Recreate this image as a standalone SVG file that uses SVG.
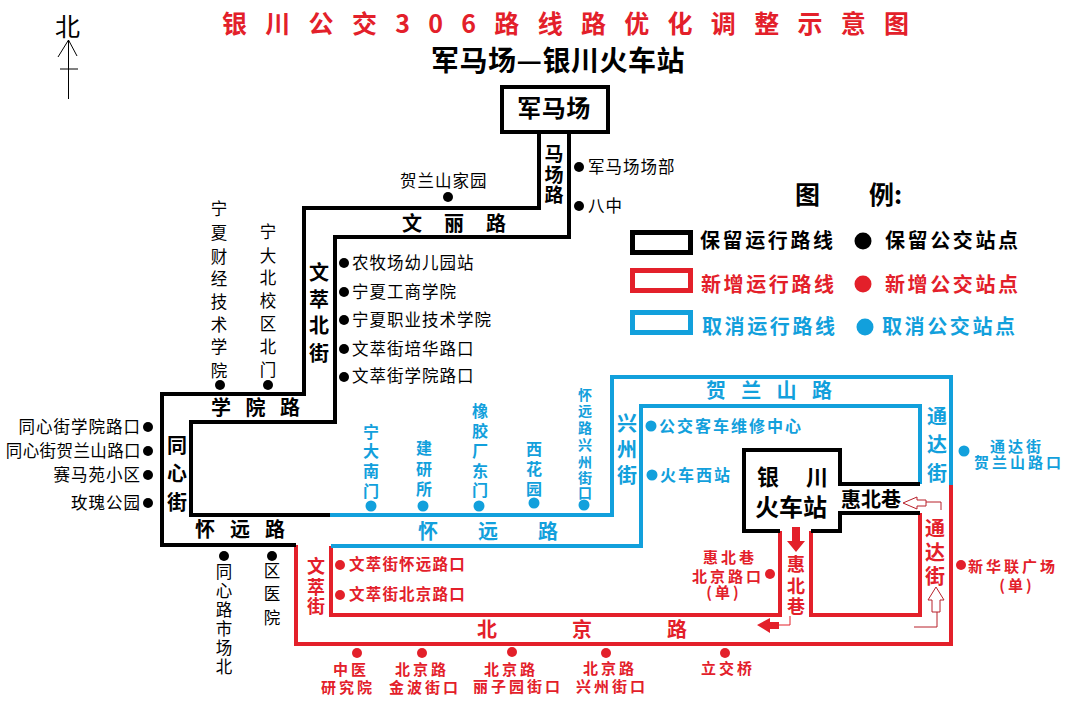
<svg xmlns="http://www.w3.org/2000/svg" width="1065" height="703" viewBox="0 0 1065 703">
<style>
text{font-family:"Noto Sans CJK SC","Liberation Sans",sans-serif;font-weight:700}
.k{fill:#000}.r{fill:#e3202a}.b{fill:#12a0dc}
.m{text-anchor:middle}
.e{text-anchor:end}
.n{font-weight:400;font-size:16.5px;letter-spacing:1px}
.v{font-weight:400;font-size:16.5px}
.sb{font-size:16px;letter-spacing:2px}
.sb2{font-size:15px;letter-spacing:3px}
.vb{font-size:16px}
.sr{font-size:15.5px;letter-spacing:1.2px}
.sr2{font-size:15px;letter-spacing:3px}
.l{font-size:20px}.t{font-size:20px}
.lg{font-size:20px;letter-spacing:2.6px}
.lk{fill:none;stroke-width:4;stroke-linejoin:miter}
.K{stroke:#000}.R{stroke:#e3202a}.B{stroke:#12a0dc}
.dk{fill:#000}.dr{fill:#e3202a}.db{fill:#12a0dc}
.thin{fill:none;stroke-width:1}
</style>
<rect width="1065" height="703" fill="#fff"/>
<g id="connectors">
<path class="lk R" d="M296 545V644H951V485"/>
<path class="lk R" d="M331 546V615H780V531"/>
<path class="lk R" d="M811 531V615H920V513"/>
<path class="lk B" d="M330 515H612V377H951V485"/>
<path class="lk B" d="M331 546H641V406H920V484"/>
<path class="lk K" d="M539 132V208H304V394H162V545H296"/>
<path class="lk K" d="M569 132V237H335V422H191V515H330"/>
<path class="lk K" d="M780 531H744V450H840V484H920"/>
<path class="lk K" d="M811 531H840V513H920"/>
<path class="thin K" d="M68.500 99V40M58 57L68.500 40L77 56M60 69H78"/>
<path class="dr" d="M792 527h8v14h5l-9 11l-9-11h5z"/>
<path class="dr" d="M757 625l13-7v4h9v7h-9v4z"/>
<path class="thin R" d="M790 616V625H779"/>
<g fill="#fff" stroke="#b8202a" stroke-width="1">
<path d="M903 503l14-6v3h9v6h-9v3z"/>
<path d="M936 587l-8 13h4v12h8v-12h4z"/>
</g>
<path d="M926 502H941V510M937 612V627H914" fill="none" stroke="#b8202a" stroke-width="1"/>
</g>
<text class="r" x="222" y="33" font-size="25" letter-spacing="18.300">银川公交306路线路优化调整示意图</text>
<text class="k" x="431" y="71" font-size="28" letter-spacing="0.500">军马场—银川火车站</text>
<text x="55" y="36" font-size="25" style="font-weight:400">北</text>
<g id="node-junmachang">
<rect x="502" y="87" width="106" height="45" fill="#fff" stroke="#000" stroke-width="4"/>
<text class="k m" x="554" y="117" font-size="24" letter-spacing="0.500">军马场</text>
</g>
<g id="node-station">
<text class="k" x="757" y="485" font-size="22">银</text><text class="k" x="806" y="485" font-size="22">川</text>
<text class="k" x="755" y="516" font-size="24">火车站</text>
</g>
<g id="legend">
<text class="k" x="795" y="204" font-size="25">图</text><text class="k" x="869" y="204" font-size="25">例:</text>
<g fill="#fff" stroke-width="5">
<rect x="632.500" y="232.500" width="58" height="20" stroke="#000"/>
<rect x="632.500" y="270.500" width="58" height="20" stroke="#e3202a"/>
<rect x="632.500" y="312.500" width="58" height="20" stroke="#12a0dc"/>
</g>
<text class="k lg" x="700" y="248">保留运行路线</text>
<text class="r lg" x="701" y="292">新增运行路线</text>
<text class="b lg" x="702" y="334">取消运行路线</text>
<text class="k lg" x="885" y="248">保留公交站点</text>
<text class="r lg" x="885" y="292">新增公交站点</text>
<text class="b lg" x="882" y="334">取消公交站点</text>
<circle class="dk" cx="863" cy="241" r="8.500"/><circle class="dr" cx="863" cy="284" r="8.500"/><circle class="db" cx="865" cy="327" r="8.500"/>
</g>
<g id="road-labels">
<text class="k m" font-size="19"><tspan x="554" y="161">马</tspan><tspan x="554" y="182">场</tspan><tspan x="554" y="202">路</tspan></text>
<text class="k l" x="402" y="231" letter-spacing="22">文丽路</text>
<text class="k m t"><tspan x="319" y="280">文</tspan><tspan x="319" y="307">萃</tspan><tspan x="319" y="333">北</tspan><tspan x="319" y="361">街</tspan></text>
<text class="k l" x="211" y="415" letter-spacing="14.500">学院路</text>
<text class="k m t"><tspan x="177" y="453">同</tspan><tspan x="177" y="481">心</tspan><tspan x="177" y="510">街</tspan></text>
<text class="k l" x="195" y="537" letter-spacing="15">怀远路</text>
<text class="b l" x="418" y="539" letter-spacing="40">怀远路</text>
<text class="b l" x="706" y="398" letter-spacing="15.300">贺兰山路</text>
<text class="b m t"><tspan x="627" y="431">兴</tspan><tspan x="627" y="457">州</tspan><tspan x="627" y="483">街</tspan></text>
<text class="b m t"><tspan x="937" y="424">通</tspan><tspan x="937" y="452">达</tspan><tspan x="937" y="481">街</tspan></text>
<text class="r m t"><tspan x="935" y="536">通</tspan><tspan x="935" y="560">达</tspan><tspan x="935" y="584">街</tspan></text>
<text class="k" x="841" y="507" font-size="20">惠北巷</text>
<text class="r m" font-size="18"><tspan x="796" y="571">惠</tspan><tspan x="796" y="593">北</tspan><tspan x="796" y="613">巷</tspan></text>
<text class="r m" font-size="18"><tspan x="316" y="573">文</tspan><tspan x="316" y="594">萃</tspan><tspan x="316" y="613">街</tspan></text>
<text class="r l" x="477" y="637" letter-spacing="75">北京路</text>
</g>
<g id="stops-black">
<g class="dk">
<circle cx="448" cy="197" r="5"/><circle cx="579" cy="167" r="5"/><circle cx="579" cy="206" r="5"/>
<circle cx="344" cy="263" r="5"/><circle cx="344" cy="292" r="5"/><circle cx="344" cy="320" r="5"/><circle cx="344" cy="349" r="5"/><circle cx="344" cy="377" r="5"/>
<circle cx="220" cy="385" r="5"/><circle cx="268" cy="385" r="5"/>
<circle cx="148" cy="427" r="5"/><circle cx="148" cy="451" r="5"/><circle cx="148" cy="475" r="5"/><circle cx="148" cy="503" r="5"/>
<circle cx="224" cy="556" r="5"/><circle cx="272" cy="556" r="5"/>
</g>
<text x="400" y="187" class="n">贺兰山家园</text>
<text x="588" y="173" class="n">军马场场部</text>
<text x="588" y="212" class="n">八中</text>
<text x="352" y="269" class="n">农牧场幼儿园站</text>
<text x="352" y="298" class="n">宁夏工商学院</text>
<text x="352" y="326" class="n">宁夏职业技术学院</text>
<text x="352" y="355" class="n">文萃街培华路口</text>
<text x="352" y="382" class="n">文萃街学院路口</text>
<text x="141" y="433" class="n e">同心街学院路口</text>
<text x="141" y="457" class="n e" style="letter-spacing:.4px">同心街贺兰山路口</text>
<text x="141" y="481" class="n e">赛马苑小区</text>
<text x="141" y="509" class="n e">玫瑰公园</text>
<text class="m v"><tspan x="219" y="215">宁</tspan><tspan x="219" y="239">夏</tspan><tspan x="219" y="263">财</tspan><tspan x="219" y="285">经</tspan><tspan x="219" y="308">技</tspan><tspan x="219" y="331">术</tspan><tspan x="219" y="353">学</tspan><tspan x="219" y="377">院</tspan></text>
<text class="m v"><tspan x="268" y="238">宁</tspan><tspan x="268" y="262">大</tspan><tspan x="268" y="284">北</tspan><tspan x="268" y="307">校</tspan><tspan x="268" y="330">区</tspan><tspan x="268" y="353">北</tspan><tspan x="268" y="376">门</tspan></text>
<text class="m v"><tspan x="224" y="578">同</tspan><tspan x="224" y="597">心</tspan><tspan x="224" y="616">路</tspan><tspan x="224" y="635">市</tspan><tspan x="224" y="654">场</tspan><tspan x="224" y="673">北</tspan></text>
<text class="m v"><tspan x="272" y="577">区</tspan><tspan x="272" y="600">医</tspan><tspan x="272" y="624">院</tspan></text>
</g>
<g id="stops-blue">
<g class="db">
<circle cx="371" cy="506" r="5.500"/><circle cx="423" cy="506" r="5.500"/><circle cx="479" cy="506" r="5.500"/><circle cx="534" cy="503" r="5.500"/><circle cx="584" cy="505" r="5.500"/>
<circle cx="651" cy="426" r="5.500"/><circle cx="652" cy="475" r="5.500"/><circle cx="964" cy="451" r="5.500"/>
</g>
<text class="m b vb"><tspan x="371" y="438">宁</tspan><tspan x="371" y="457">大</tspan><tspan x="371" y="477">南</tspan><tspan x="371" y="497">门</tspan></text>
<text class="m b vb"><tspan x="424" y="454">建</tspan><tspan x="424" y="475">研</tspan><tspan x="424" y="495">所</tspan></text>
<text class="m b vb"><tspan x="480" y="417">橡</tspan><tspan x="480" y="437">胶</tspan><tspan x="480" y="457">厂</tspan><tspan x="480" y="477">东</tspan><tspan x="480" y="496">门</tspan></text>
<text class="m b vb"><tspan x="534" y="455">西</tspan><tspan x="534" y="475">花</tspan><tspan x="534" y="495">园</tspan></text>
<text class="m b" font-size="14"><tspan x="585" y="400">怀</tspan><tspan x="585" y="416">远</tspan><tspan x="585" y="433">路</tspan><tspan x="585" y="450">兴</tspan><tspan x="585" y="467">州</tspan><tspan x="585" y="483">街</tspan><tspan x="585" y="498">口</tspan></text>
<text class="b sb" x="659" y="432">公交客车维修中心</text>
<text class="b sb" x="660" y="481">火车西站</text>
<text class="b sb2 m" x="1017" y="452">通达街</text>
<text class="b sb2 m" x="1019" y="468">贺兰山路口</text>
</g>
<g id="stops-red">
<g class="dr">
<circle cx="340" cy="565" r="5"/><circle cx="340" cy="595" r="5"/><circle cx="770" cy="574" r="5"/><circle cx="961" cy="565" r="5"/>
<circle cx="357" cy="653" r="5"/><circle cx="422" cy="653" r="5"/><circle cx="512" cy="652" r="5"/><circle cx="606" cy="653" r="5"/><circle cx="725" cy="653" r="5"/>
</g>
<text class="r sr" x="349" y="570">文萃街怀远路口</text>
<text class="r sr" x="349" y="600">文萃街北京路口</text>
<text class="r sr2 m" x="730" y="563">惠北巷</text>
<text class="r sr2 m" x="728" y="582">北京路口</text>
<text class="r sr2 m" x="724" y="598">(单)</text>
<text class="r sr2" x="968" y="572">新华联广场</text>
<text class="r sr2 m" x="1017" y="591">(单)</text>
<g class="r sr2">
<text class="m" x="351" y="675">中医</text><text class="m" x="348" y="693">研究院</text>
<text class="m" x="422" y="675">北京路</text><text class="m" x="425" y="693">金波街口</text>
<text class="m" x="511" y="675">北京路</text><text class="m" x="518" y="692">丽子园街口</text>
<text class="m" x="610" y="674">北京路</text><text class="m" x="612" y="692">兴州街口</text>
<text class="m" x="728" y="674">立交桥</text>
</g>
</g>
</svg>
